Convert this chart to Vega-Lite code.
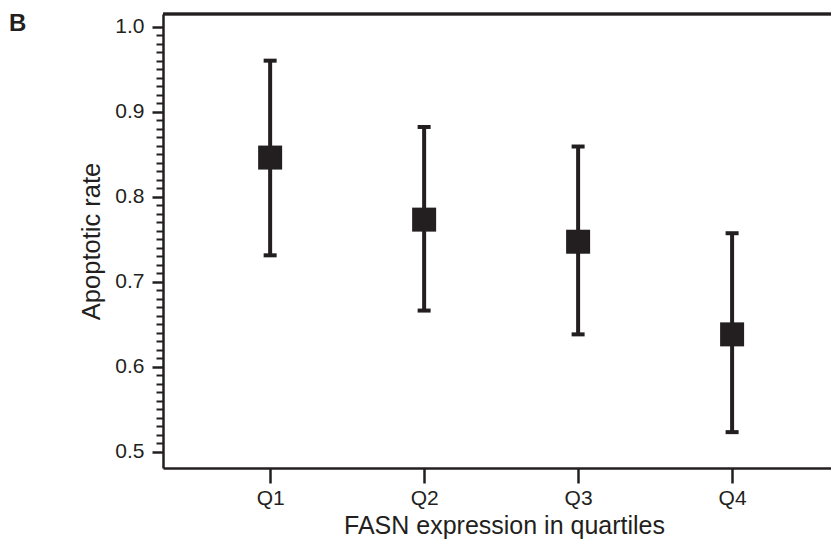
{
  "$schema": "https://vega.github.io/schema/vega-lite/v6.json",
  "width": 668,
  "height": 454,
  "autosize": {"type": "none"},
  "padding": {"left": 163, "top": 14, "right": 0, "bottom": 78},
  "background": "white",
  "title": {"text": "B", "anchor": "start", "frame": "group", "orient": "top", "dx": -154, "offset": -42, "baseline": "alphabetic", "fontSize": 24, "fontWeight": "bold", "font": "Liberation Sans", "color": "#231f20"},
  "config": {"view": {"stroke": null}, "font": "Liberation Sans"},
  "data": {
    "values": [
      {"quartile": "Q1", "mean": 0.846, "lower": 0.731, "upper": 0.960},
      {"quartile": "Q2", "mean": 0.773, "lower": 0.666, "upper": 0.882},
      {"quartile": "Q3", "mean": 0.747, "lower": 0.638, "upper": 0.859},
      {"quartile": "Q4", "mean": 0.638, "lower": 0.523, "upper": 0.757}
    ]
  },
  "layer": [
    {
      "mark": {"type": "rule", "strokeWidth": 4, "color": "#231f20"},
      "encoding": {
        "x": {
          "field": "quartile", "type": "ordinal",
          "scale": {"type": "point", "padding": 0.669, "align": 0.52},
          "axis": {"title": "FASN expression in quartiles", "labelAngle": 0, "tickSize": 15, "tickWidth": 2.5, "tickColor": "#231f20", "domainWidth": 2.5, "domainColor": "#231f20", "labelFontSize": 21, "labelPadding": 4, "labelColor": "#231f20", "titleFontSize": 25, "titleFontWeight": "normal", "titleColor": "#231f20", "titlePadding": 5, "titleX": 341, "grid": false}
        },
        "y": {
          "field": "lower", "type": "quantitative",
          "scale": {"domain": [0.4808, 1.0149], "nice": false, "zero": false},
          "axis": {"orient": "left", "values": [0.5, 0.6, 0.7, 0.8, 0.9, 1.0], "format": ".1f", "tickSize": 11, "tickWidth": 2.5, "tickColor": "#231f20", "domainWidth": 2.5, "domainColor": "#231f20", "labelFontSize": 21, "labelPadding": 8, "labelColor": "#231f20", "title": "Apoptotic rate", "titleFontSize": 25.5, "titleFontWeight": "normal", "titleColor": "#231f20", "titlePadding": 10, "grid": false}
        },
        "y2": {"field": "upper"}
      }
    },
    {
      "mark": {"type": "tick", "size": 13, "thickness": 4, "opacity": 1, "color": "#231f20"},
      "encoding": {
        "x": {"field": "quartile", "type": "ordinal"},
        "y": {
          "field": "lower", "type": "quantitative",
          "axis": {"orient": "left", "values": [0.51, 0.52, 0.53, 0.54, 0.55, 0.56, 0.57, 0.58, 0.59, 0.61, 0.62, 0.63, 0.64, 0.65, 0.66, 0.67, 0.68, 0.69, 0.71, 0.72, 0.73, 0.74, 0.75, 0.76, 0.77, 0.78, 0.79, 0.81, 0.82, 0.83, 0.84, 0.85, 0.86, 0.87, 0.88, 0.89, 0.91, 0.92, 0.93, 0.94, 0.95, 0.96, 0.97, 0.98, 0.99], "labels": false, "domain": false, "tickSize": 7, "tickWidth": 2, "tickColor": "#231f20", "title": null, "grid": false}
        }
      }
    },
    {
      "mark": {"type": "tick", "size": 13, "thickness": 4, "opacity": 1, "color": "#231f20"},
      "encoding": {
        "x": {"field": "quartile", "type": "ordinal"},
        "y": {"field": "upper", "type": "quantitative", "axis": null}
      }
    },
    {
      "mark": {"type": "point", "shape": "square", "size": 576, "filled": true, "opacity": 1, "color": "#231f20"},
      "encoding": {
        "x": {"field": "quartile", "type": "ordinal"},
        "y": {"field": "mean", "type": "quantitative", "axis": null}
      }
    },
    {
      "mark": {"type": "rule", "strokeWidth": 2.5, "color": "#231f20"},
      "encoding": {
        "y": {"datum": 1.0149, "axis": null}
      }
    }
  ],
  "resolve": {"axis": {"y": "independent"}}
}
